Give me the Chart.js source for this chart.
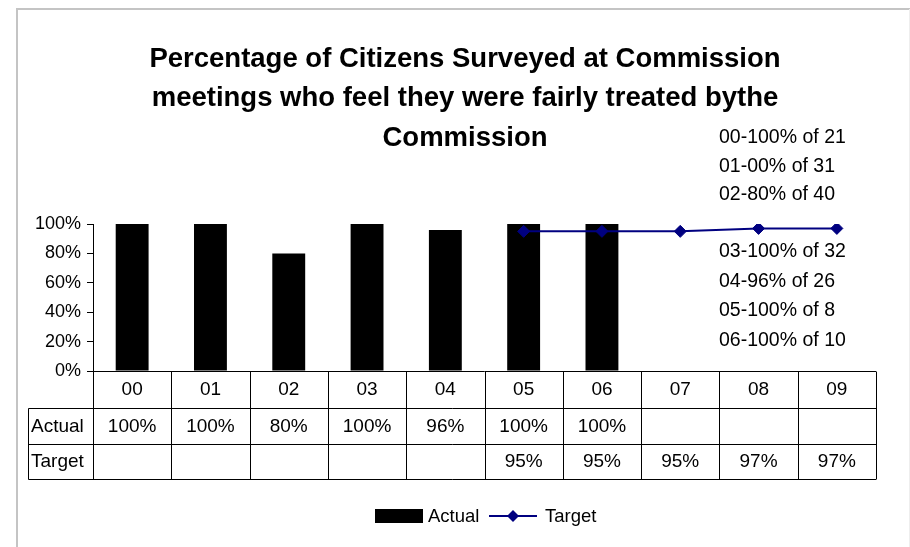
<!DOCTYPE html>
<html>
<head>
<meta charset="utf-8">
<title>Citizens fairly treated</title>
<script src="https://cdn.jsdelivr.net/npm/chart.js@4/dist/chart.umd.min.js"></script>
<style>
  html,body{margin:0;padding:0;background:#fff;}
  #wrap{width:910px;height:547px;}
</style>
</head>
<body>
<div id="wrap"><canvas id="chart" width="910" height="547"></canvas></div>
<script>
/* ---- data ---- */
const years = ['00','01','02','03','04','05','06','07','08','09'];
const actualPct = [100,100,80,100,96,100,100,null,null,null];
const targetPct = [null,null,null,null,null,95,95,95,97,97];
const yTicks = [0,20,40,60,80,100];
const titleLines = [
  'Percentage of Citizens Surveyed at Commission',
  'meetings who feel they were fairly treated bythe',
  'Commission'
];
const notesTop = ['00-100% of 21','01-00% of 31','02-80% of 40'];
const notesBottom = ['03-100% of 32','04-96% of 26','05-100% of 8','06-100% of 10'];

const FONT = "'Liberation Sans', Arial, sans-serif";
const NAVY = '#000080';
const pct = v => v==null ? '' : v + '%';

/* title, notes, data table under the axis and the legend */
const tablePlugin = {
  id:'dataTable',
  beforeDraw(chart){
    const c = chart.ctx;
    c.save();
    c.fillStyle = '#fff';
    c.fillRect(0,0,chart.width,chart.height);
    c.strokeStyle = '#c4c4c4'; c.lineWidth = 2;
    c.beginPath(); c.moveTo(17,chart.height); c.lineTo(17,9); c.lineTo(chart.width,9); c.stroke();
    c.strokeStyle = '#eeeeee'; c.lineWidth = 1;
    c.beginPath(); c.moveTo(909.5,9); c.lineTo(909.5,chart.height); c.stroke();
    c.restore();
  },
  afterDraw(chart){
    const c = chart.ctx, x = chart.scales.x, a = chart.chartArea;
    const half = (x.getPixelForValue(1) - x.getPixelForValue(0)) / 2;
    const rows = [a.bottom, a.bottom+36.5, a.bottom+72.5, a.bottom+108];
    const leftCol = 28.5;
    c.save();
    // title
    c.fillStyle = '#000';
    c.font = `bold 27.5px ${FONT}`;
    c.textAlign = 'center'; c.textBaseline = 'alphabetic';
    titleLines.forEach((t,i)=> c.fillText(t, 465, 66.5 + i*39.7));
    // notes on the right
    c.textBaseline = 'middle';
    c.font = `19.5px ${FONT}`;
    c.textAlign = 'left';
    notesTop.forEach((t,i)=> c.fillText(t, 719, 138 + i*28.3));
    notesBottom.forEach((t,i)=> c.fillText(t, 719, 252 + i*29.5));
    // table grid
    c.strokeStyle = '#000'; c.lineWidth = 1;
    c.beginPath();
    const yTop = Math.round(rows[0]) + 0.5;
    c.moveTo(a.left, yTop); c.lineTo(a.right, yTop);
    for(let r=1;r<rows.length;r++){
      const yy = Math.round(rows[r]) + 0.5;
      c.moveTo(leftCol, yy); c.lineTo(a.right, yy);
    }
    c.moveTo(leftCol, Math.round(rows[1])+0.5); c.lineTo(leftCol, Math.round(rows[3])+0.5);
    for(let i=0;i<=years.length;i++){
      const xx = Math.round(x.getPixelForValue(i) - half) + 0.5;
      c.moveTo(xx, yTop); c.lineTo(xx, Math.round(rows[3])+0.5);
    }
    c.stroke();
    // table text
    c.fillStyle = '#000';
    c.font = `19px ${FONT}`;
    const mid = r => (rows[r] + rows[r+1]) / 2 + 1;
    c.textAlign = 'left';
    c.fillText('Actual', 31, mid(1));
    c.fillText('Target', 31, mid(2));
    c.textAlign = 'center';
    years.forEach((y,i)=>{
      const cx = x.getPixelForValue(i);
      c.fillText(y, cx, mid(0));
      c.fillText(pct(actualPct[i]), cx, mid(1));
      c.fillText(pct(targetPct[i]), cx, mid(2));
    });
    // legend
    const ly = 516;
    const ds = chart.data.datasets;
    c.font = `18.5px ${FONT}`;
    c.fillStyle = ds[0].backgroundColor;
    c.fillRect(375, ly-7, 48, 14);
    c.fillStyle = '#000'; c.textAlign = 'left';
    c.fillText(ds[0].label, 428, ly+1);
    c.strokeStyle = ds[1].borderColor; c.lineWidth = 2;
    c.beginPath(); c.moveTo(489, ly); c.lineTo(537, ly); c.stroke();
    c.fillStyle = ds[1].borderColor;
    c.beginPath(); c.moveTo(513, ly-6); c.lineTo(519, ly); c.lineTo(513, ly+6); c.lineTo(507, ly); c.closePath(); c.fill();
    c.fillStyle = '#000';
    c.fillText(ds[1].label, 545, ly+1);
    c.restore();
  }
};

Chart.defaults.font.family = FONT;
Chart.defaults.color = '#000';

new Chart(document.getElementById('chart'), {
  type:'bar',
  data:{
    labels:years,
    datasets:[
      {label:'Actual', data:actualPct, backgroundColor:'#000', borderWidth:0,
       categoryPercentage:1, barPercentage:0.42, order:1},
      {type:'line', label:'Target', data:targetPct, borderColor:NAVY, backgroundColor:NAVY,
       borderWidth:2, tension:0, pointStyle:'rectRot', pointRadius:6, pointBorderWidth:1,
       pointBackgroundColor:NAVY, pointBorderColor:NAVY, order:0}
    ]
  },
  options:{
    responsive:false, animation:false,
    layout:{ padding:{left:28, right:34, top:224, bottom:176} },
    plugins:{ legend:{display:false}, tooltip:{enabled:false}, title:{display:false} },
    scales:{
      x:{ display:false },
      y:{
        min:0, max:100,
        afterBuildTicks: s => { s.ticks = yTicks.map(v=>({value:v})); },
        afterFit: s => { s.width = 65; },
        ticks:{ callback: v => v + '%', font:{size:18}, color:'#000', padding:6 },
        grid:{ drawOnChartArea:false, drawTicks:true, tickLength:6, color:'#000' },
        border:{ color:'#000', width:1 }
      }
    }
  },
  plugins:[tablePlugin]
});
</script>
</body>
</html>
